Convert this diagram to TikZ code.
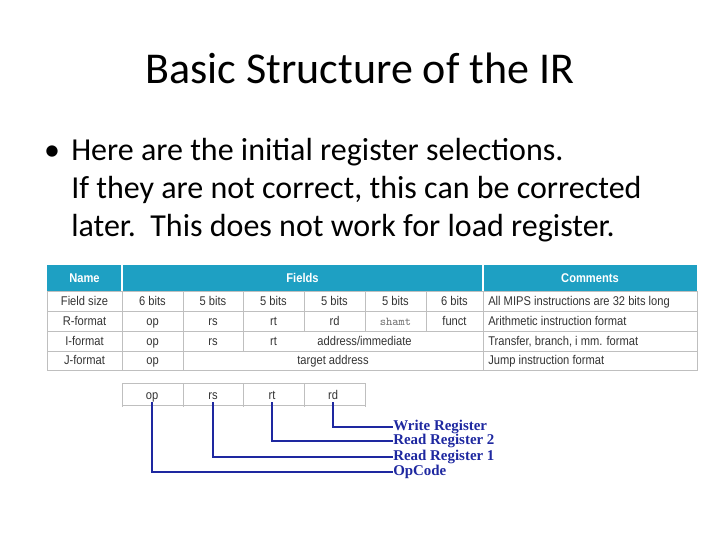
\documentclass[tikz,border=0pt]{standalone}
\usepackage{fontspec}
\setmainfont{Carlito}
\newfontfamily\tabfont[FakeStretch=0.88]{Liberation Sans}
\newfontfamily\serfont{Liberation Serif}
\begin{document}
\begin{tikzpicture}[x=0.75pt,y=-0.75pt,
  cell/.style={font=\tabfont\fontsize{9.5}{11}\selectfont,text=black!80,inner sep=0pt,text height=7pt,text depth=2pt},
  hdr/.style={font=\tabfont\bfseries\fontsize{9.5}{11}\selectfont,text=white,inner sep=0pt,text height=7pt,text depth=2pt},
  lbl/.style={font=\serfont\bfseries\fontsize{11.2}{12}\selectfont,text=lblue,anchor=west,inner sep=0pt,text height=7pt,text depth=2pt},
  body/.style={anchor=base west,inner sep=0pt,font=\fontsize{24}{28}\selectfont},
  grid/.style={draw=black!25,line width=0.5pt},
  wire/.style={draw=lblue,line width=1pt}]
\definecolor{teal}{RGB}{30,160,195}
\definecolor{lblue}{RGB}{30,40,160}
\useasboundingbox (0,0) rectangle (720,540);
\node (title) at (360,68) {\fontsize{33}{38}\selectfont Basic Structure of the IR};
\node[body,anchor=base] (bul) at (52,160) {•};
\node[body] (l1) at (71,160) {Here are the initial register selections.};
\node[body] (l2) at (71,198) {If they are not correct, this can be corrected};
\node[body] (l3) at (71,236) {later.\ \ This does not work for load register.};
% table
\fill[teal] (47,265) rectangle (697,291);
\draw[white,line width=1pt] (122,265)--(122,291) (483,265)--(483,291);
\node[hdr] (hn) at (84.5,279) {Name};
\node[hdr] (hf) at (302.5,279) {Fields};
\node[hdr] (hc) at (590,279) {Comments};
\draw[grid] (47,291) rectangle (697,370);
\foreach \y in {311,331,351} \draw[grid] (47,\y)--(697,\y);
\draw[grid] (122,291)--(122,370) (183,291)--(183,370) (483,291)--(483,370);
\draw[grid] (243,291)--(243,351) (304,291)--(304,331) (365,291)--(365,331) (426,291)--(426,331);
\foreach \n/\x/\y/\t in {a/84.5/302/Field size, b/152.5/302/6 bits, c/213/302/5 bits, d/273.5/302/5 bits, e/334.5/302/5 bits, f/395.5/302/5 bits, g/454.5/302/6 bits,
 h/84.5/322/R-format, i/152.5/322/op, j/213/322/rs, k/273.5/322/rt, m/334.5/322/rd, o/454.5/322/funct,
 p/84.5/342/I-format, q/152.5/342/op, r/213/342/rs, s/273.5/342/rt, t/364.5/342/{address/immediate},
 u/84.5/361/J-format, v/152.5/361/op, w/333/361/target address}
  \node[cell] (\n) at (\x,\y) {\t};
\node[cell,font=\ttfamily\fontsize{9}{11}\selectfont,text=black!55] (sh) at (395.5,322) {shamt};
\foreach \n/\y/\t in {ca/302/All MIPS instructions are 32 bits long, cb/322/Arithmetic instruction format, cc/342/{Transfer, branch, i mm. format}, cd/361/Jump instruction format}
  \node[cell,anchor=west] (\n) at (488,\y) {\t};
% IR strip
\draw[grid] (122,383)--(365,383) (122,405)--(365,405);
\foreach \x in {122,183,243,304,365} \draw[grid] (\x,383)--(\x,407);
\node[cell] (bop) at (152,396) {op};
\node[cell] (brs) at (213,396) {rs};
\node[cell] (brt) at (272,396) {rt};
\node[cell] (brd) at (333,396) {rd};
\node[lbl] (wr) at (393,427) {Write Register};
\node[lbl] (r2) at (393,441) {Read Register 2};
\node[lbl] (r1) at (393,457) {Read Register 1};
\node[lbl] (oc) at (393,472) {OpCode};
\draw[wire] (bop.south) |- (oc.west);
\draw[wire] (brs.south) |- (r1.west);
\draw[wire] (brt.south) |- (r2.west);
\draw[wire] (brd.south) |- (wr.west);
\end{tikzpicture}
\end{document}
